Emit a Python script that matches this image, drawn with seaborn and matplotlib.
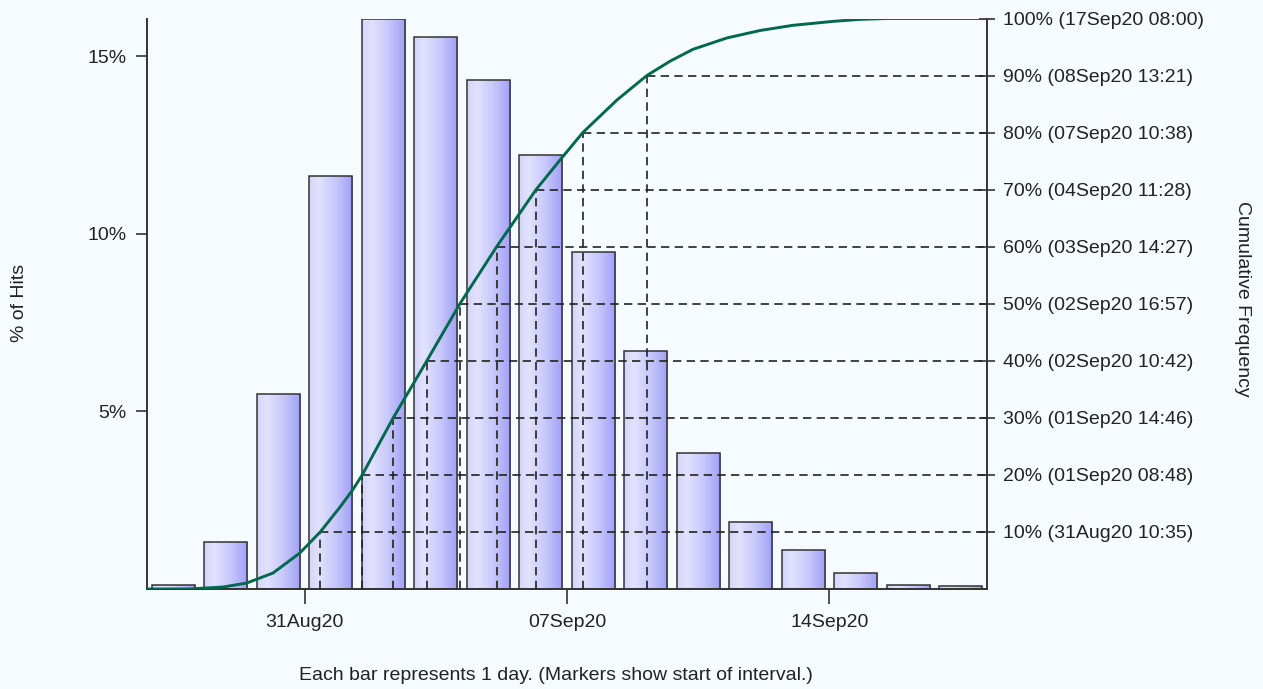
import numpy as np
import pandas as pd
import matplotlib
matplotlib.use("Agg")
import matplotlib.pyplot as plt
import seaborn as sns
from matplotlib.colors import LinearSegmentedColormap

# ── data ───────────────────────────────────────────────────────────────────
bar_pct = [0.12, 1.33, 5.49, 11.63, 16.05, 15.55, 14.34, 12.23,
           9.49, 6.70, 3.83, 1.90, 1.10, 0.44, 0.12, 0.08]

# cumulative curve, x in bar-index units
curve_x = [-0.5, 0.30, 0.95, 1.40, 1.90, 2.41, 2.80, 3.18, 3.42, 3.60, 4.00,
           4.19, 4.83, 5.46, 6.16, 6.91, 7.35, 7.80, 8.45, 9.02, 9.46, 9.90,
           10.55, 11.18, 11.80, 12.57, 13.08, 13.60, 15.5]
curve_pct = [0.0, 0.0, 0.35, 1.05, 2.8, 6.3, 10.0, 14.4, 17.4, 20.0, 26.8,
             30.0, 40.0, 50.0, 60.0, 70.0, 75.0, 80.0, 85.7, 90.0, 92.5, 94.6,
             96.6, 97.9, 98.8, 99.5, 99.85, 100.0, 100.0]

quant_pct = [10, 20, 30, 40, 50, 60, 70, 80, 90]
quant_x = [2.80, 3.60, 4.19, 4.83, 5.46, 6.16, 6.91, 7.80, 9.02]

right_labels = ["10% (31Aug20 10:35)", "20% (01Sep20 08:48)", "30% (01Sep20 14:46)",
                "40% (02Sep20 10:42)", "50% (02Sep20 16:57)", "60% (03Sep20 14:27)",
                "70% (04Sep20 11:28)", "80% (07Sep20 10:38)", "90% (08Sep20 13:21)",
                "100% (17Sep20 08:00)"]
right_ticks = [10, 20, 30, 40, 50, 60, 70, 80, 90, 100]

tick_bar = [3, 8, 13]          # tick sits at the start of these bars
tick_labels = ["31Aug20", "07Sep20", "14Sep20"]

left_ticks = [5, 10, 15]
left_labels = ["5%", "10%", "15%"]

BG = "#f5fbfe"
INK = "#222222"
CURVE = "#00684e"

sns.set_theme(style="ticks")
plt.rcParams["font.family"] = ["Liberation Sans", "DejaVu Sans"]
plt.rcParams["font.size"] = 14

fig = plt.figure(figsize=(12.63, 6.89), dpi=100, facecolor=BG)
ax = fig.add_axes([147 / 1263, 1 - 589 / 689, 840 / 1263, 570.5 / 689])
ax.set_facecolor(BG)

df = pd.DataFrame({"bar": range(len(bar_pct)), "pct": bar_pct})
sns.barplot(data=df, x="bar", y="pct", width=0.82, color="#c8c8fa",
            edgecolor="#333333", linewidth=1.1, ax=ax)

# horizontal gradient fill inside each bar
cmap = LinearSegmentedColormap.from_list(
    "bars", [(0, "#d4d4fa"), (0.22, "#e2e2fd"), (0.6, "#c8c8fb"), (1, "#a0a0f6")])
grad = np.linspace(0, 1, 64).reshape(1, -1)
for bar in ax.patches:
    x0, w, h = bar.get_x(), bar.get_width(), bar.get_height()
    img = ax.imshow(grad, extent=(x0, x0 + w, 0, h), cmap=cmap, aspect="auto",
                    origin="lower", interpolation="bilinear", zorder=0.9)
    img.set_clip_path(bar)
    bar.set_facecolor("none")
    bar.set_zorder(1)

ax.set_xlim(-0.5, len(bar_pct) - 0.5)
ax.set_ylim(0, 16.07)
ax.set_xticks([b - 0.5 for b in tick_bar], tick_labels)
ax.set_yticks(left_ticks, left_labels)
ax.set_xlabel("")
ax.set_ylabel("")
ax.tick_params(axis="x", direction="out", length=11, width=1.2, pad=7,
               color="#333333", labelcolor=INK, labelsize=14)
ax.tick_params(axis="y", direction="out", length=8, width=1.2, pad=7,
               color="#333333", labelcolor=INK, labelsize=14)
for side in ["top", "right"]:
    ax.spines[side].set_visible(False)
for side in ["left", "bottom"]:
    ax.spines[side].set_color("#333333")
    ax.spines[side].set_linewidth(1.4)

# ── cumulative frequency on the right axis ─────────────────────────────────
ax2 = ax.twinx()
ax2.set_ylim(0, 100)
ax2.patch.set_visible(False)
xmax = len(bar_pct) - 0.5
ax2.hlines(quant_pct, quant_x, xmax, colors="#222222", linestyles=(0, (5, 3.2)),
           linewidth=1.2, zorder=1.5)
ax2.vlines(quant_x, 0, quant_pct, colors="#222222", linestyles=(0, (5, 3.2)),
           linewidth=1.2, zorder=1.5)
sns.lineplot(x=curve_x, y=curve_pct, sort=False, estimator=None, color=CURVE,
             linewidth=2.1, ax=ax2, zorder=3)
ax2.set_xlim(-0.5, xmax)
ax2.set_yticks(right_ticks, right_labels)
ax2.tick_params(axis="y", direction="inout", length=11, width=1.2, pad=6,
                color="#333333", labelcolor=INK, labelsize=14)
ax2.spines["top"].set_visible(False)
ax2.spines["left"].set_visible(False)
ax2.spines["bottom"].set_visible(False)
ax2.spines["right"].set_color("#333333")
ax2.spines["right"].set_linewidth(1.4)
ax2.set_ylabel("")

fig.text(20 / 1263, 1 - 303 / 689, "% of Hits", rotation=90, ha="center",
         va="center", color=INK, fontsize=14)
fig.text(1243 / 1263, 1 - 299 / 689, "Cumulative Frequency", rotation=270,
         ha="center", va="center", color=INK, fontsize=14)
fig.text(556 / 1263, 1 - 676 / 689,
         "Each bar represents 1 day. (Markers show start of interval.)",
         ha="center", va="center", color=INK, fontsize=14)

fig.savefig("out.png", dpi=100, facecolor=BG)
